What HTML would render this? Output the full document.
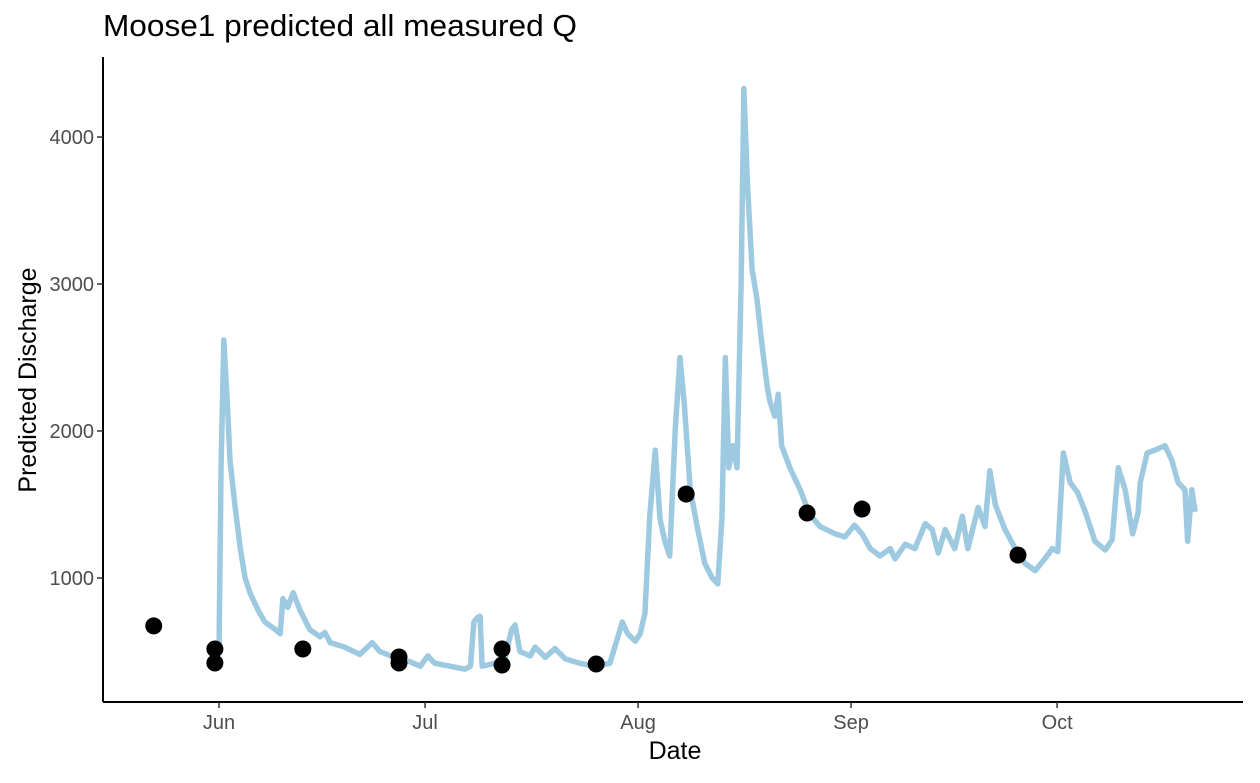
<!DOCTYPE html>
<html><head><meta charset="utf-8"><style>
body{margin:0;background:#fff;}
svg text{font-family:"Liberation Sans",Arial,sans-serif;}
</style></head><body>
<svg id="chart" width="1260" height="778">
<text x="103" y="36" font-size="31" textLength="474" lengthAdjust="spacingAndGlyphs" fill="#000">Moose1 predicted all measured Q</text>
<g id="plot"></g>
<text x="675" y="759" font-size="25" text-anchor="middle">Date</text>
<text transform="translate(36,380) rotate(-90)" font-size="25" text-anchor="middle">Predicted Discharge</text>
</svg>
<script>
const lineDays=[0,0.3,0.7,1.2,1.6,2.3,3.1,3.8,4.5,5.7,6.7,8.2,8.9,9.3,10,10.8,11.8,13.2,14.7,15.4,16.2,18.3,20.5,22.3,23.4,25.6,27.8,29.3,30.4,31.4,33.6,35.8,36.6,37.1,37.6,38,38.3,40.2,41.6,42.6,43.1,43.8,45.3,46,47.5,48.9,50.4,52.5,54.7,56.9,58.7,59.5,60.6,61.3,62,62.7,63.5,64.2,64.9,65.6,66.4,67.1,67.7,68.6,69.6,70.7,71.8,72.6,73.2,73.7,74.2,74.8,75.4,76,76.4,76.9,77.6,78.3,79,79.8,80.2,80.9,81.4,81.9,83.1,84.6,86,87.5,89.7,91.1,92.5,93.6,94.8,96.2,97.7,98.4,99.9,101.3,102.8,103.8,104.7,105.7,107.1,108.2,109,110.5,111.5,112.2,113,114.4,115.9,117.3,118.8,120.2,121.3,122.1,122.9,123.9,125,126.1,127.5,129,130,130.9,131.9,133,133.8,134.1,135.1,136.2,137.7,138.7,139.6,140.6,141,141.6,142.1];
const lineQ=[500,1750,2620,2200,1800,1500,1200,1000,900,780,700,650,620,860,800,900,780,650,600,630,560,530,480,560,500,460,430,400,470,420,400,380,400,700,730,740,400,420,450,650,680,500,470,530,460,520,450,420,400,420,700,620,570,620,760,1420,1870,1400,1250,1150,2000,2500,2200,1600,1350,1100,1000,960,1400,2500,1750,1900,1750,3000,4330,3700,3100,2900,2600,2300,2200,2100,2250,1900,1750,1600,1430,1350,1300,1280,1360,1300,1200,1150,1200,1130,1230,1200,1370,1330,1170,1330,1200,1420,1200,1480,1350,1730,1500,1330,1200,1100,1050,1130,1200,1180,1850,1650,1580,1450,1250,1190,1260,1750,1600,1300,1450,1650,1850,1870,1900,1800,1650,1600,1250,1600,1450];
const measDays=[-9.5,-0.6,-0.6,12.2,26.2,26.2,41.2,41.2,54.9,68,85.6,93.6,116.3];
const measQ=[674,517,422,517,463,422,517,408,415,1571,1442,1469,1156];
const yTicks=[1000,2000,3000,4000];
const xTickDays=[0,30,61,92,122];
const xTickLabels=["Jun","Jul","Aug","Sep","Oct"];
const NS="http://www.w3.org/2000/svg";
const X=d=>219+d*6.87, Y=v=>725-v*0.147;
const g=document.getElementById('plot');
function mk(t,a){const e=document.createElementNS(NS,t);for(const k in a)e.setAttribute(k,a[k]);g.appendChild(e);return e;}
let e=mk('line',{x1:103,y1:57,x2:103,y2:702,stroke:'#000','stroke-width':2});


e=mk('line',{x1:103,y1:702,x2:1243,y2:702,stroke:'#000','stroke-width':2});


yTicks.forEach(v=>{
 let t=mk('line',{x1:97,x2:103,y1:Y(v),y2:Y(v),stroke:'#333','stroke-width':1.5});
 
 
 let l=mk('text',{x:94,y:Y(v)+7,'font-size':20,fill:'#4d4d4d','text-anchor':'end'});l.textContent=v;
 
 
});
xTickDays.forEach((d,i)=>{
 let t=mk('line',{x1:X(d),x2:X(d),y1:702,y2:708,stroke:'#333','stroke-width':1.5});
 
 
 let l=mk('text',{x:X(d),y:729,'font-size':20,fill:'#4d4d4d','text-anchor':'middle'});l.textContent=xTickLabels[i];
 
 
});
const p=mk('polyline',{points:lineDays.map((d,i)=>X(d)+','+Y(lineQ[i])).join(' '),fill:'none',stroke:'#9ecae1','stroke-width':5.5,'stroke-linejoin':'round'});


measDays.forEach((d,i)=>{
 const c=mk('circle',{cx:X(d),cy:Y(measQ[i]),r:8.5,fill:'#000'});
 
 
});
</script>
</body></html>
